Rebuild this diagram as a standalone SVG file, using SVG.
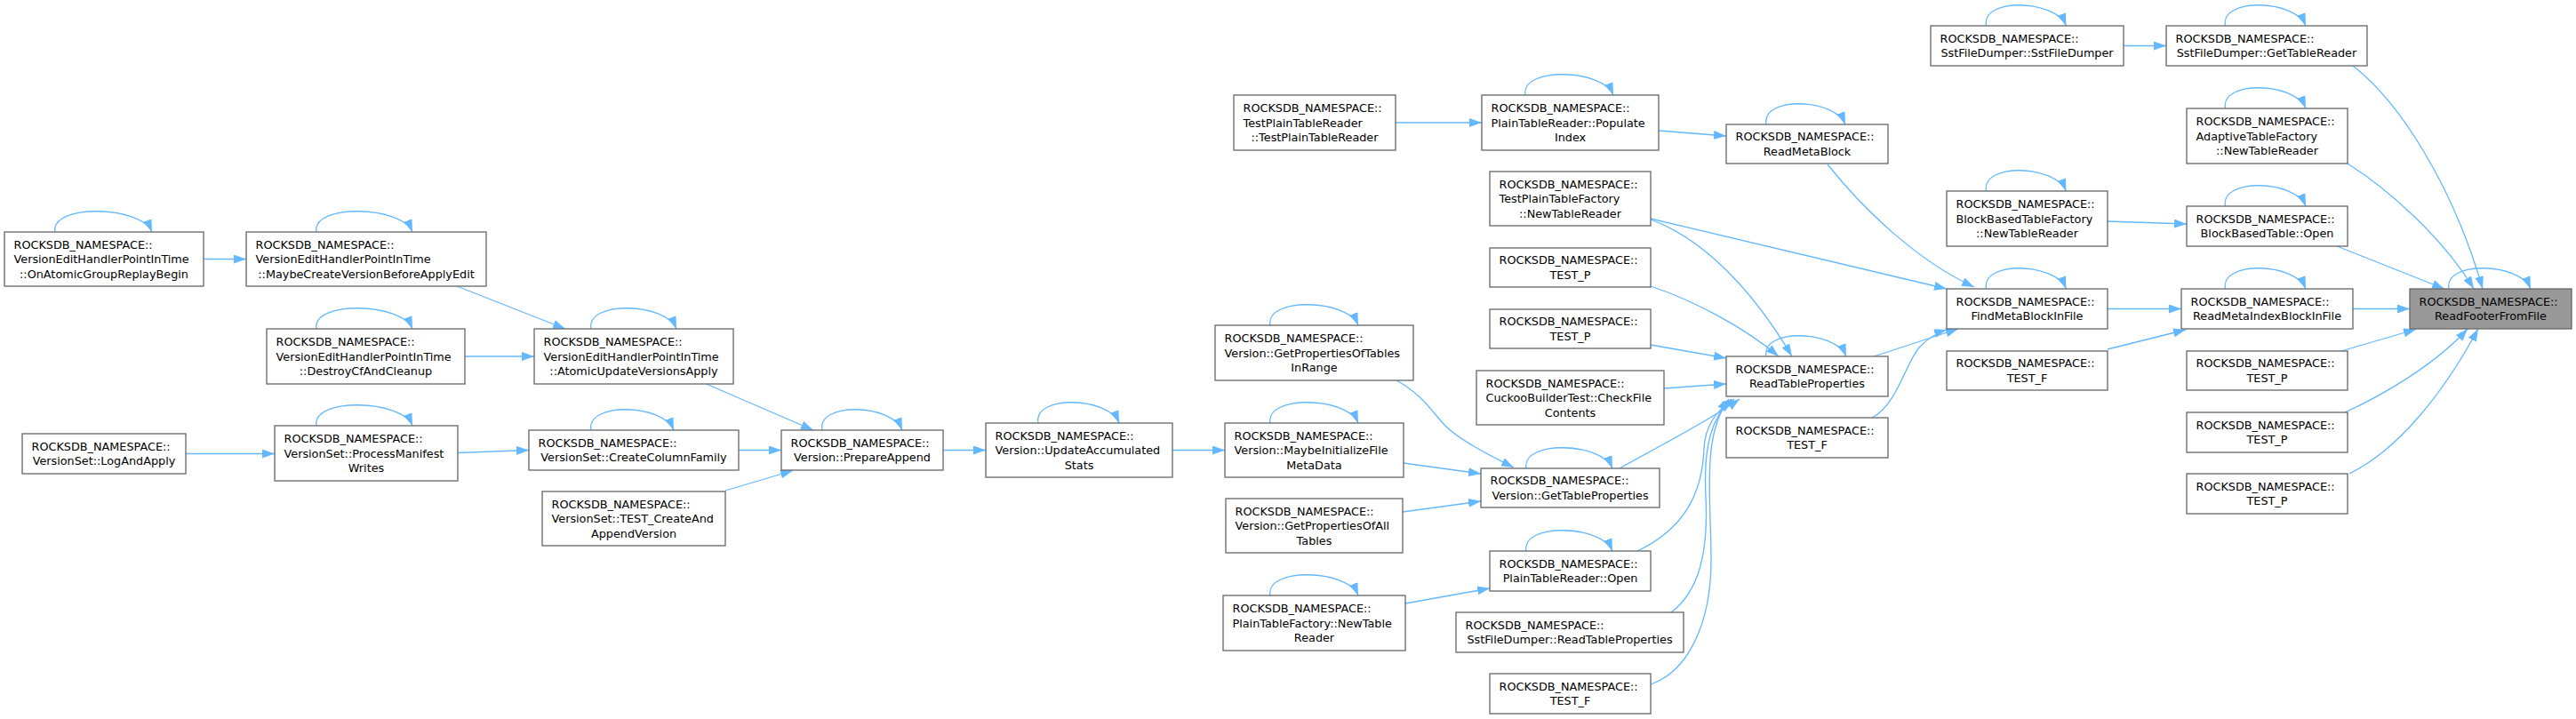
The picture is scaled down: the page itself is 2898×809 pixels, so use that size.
<svg xmlns="http://www.w3.org/2000/svg" width="2898" height="809" viewBox="0 0 2898 809">
<style>
.node rect{fill:#ffffff;stroke:#666666;stroke-width:1.3}
.node.hl rect{fill:#999999}
.node text{font-family:"DejaVu Sans","Liberation Sans",sans-serif;font-size:12.8px;fill:#000000}
.node text.c{text-anchor:middle}
.edge{fill:none;stroke:#63b8ff;stroke-width:1.3}
</style>
<defs>
<marker id="ah" markerUnits="userSpaceOnUse" markerWidth="14" markerHeight="10" refX="14" refY="5" orient="auto">
<path d="M0,0 L14,5 L0,10 Z" fill="#63b8ff"/>
</marker>
</defs>
<rect x="0" y="0" width="2898" height="809" fill="#ffffff"/>
<g id="connectors">
<g class="edge" marker-end="url(#ah)">
<path d="M229,291.5 L277,291.5"/>
<path d="M514,322 L636,370"/>
<path d="M523,401 L601,401"/>
<path d="M794.5,432 L915,484"/>
<path d="M209,510.5 L309,510.5"/>
<path d="M515,509.5 L595,506.5"/>
<path d="M831,506.5 L879,506.5"/>
<path d="M816,552 L892,529.5"/>
<path d="M1061,506.5 L1109,506.5"/>
<path d="M1319,506.5 L1378,506.5"/>
<path d="M1571,428 C1600,444 1610,462 1625,478 S1675,512 1703,526"/>
<path d="M1579,521 L1666,533"/>
<path d="M1578,576 L1666,564"/>
<path d="M1581,679 L1676,662"/>
<path d="M1570,138 L1667,138"/>
<path d="M1866,147 L1942,153"/>
<path d="M1857,246 L2190,325"/>
<path d="M1857,247 C1925,272 1980,340 2016,401"/>
<path d="M1857,322 C1905,338 1962,368 2001,401"/>
<path d="M1857,388 L1942,403"/>
<path d="M1872,437 L1942,432"/>
<path d="M1822,527 C1870,500 1920,475 1957,449"/>
<path d="M1842,620 C1895,595 1915,555 1917,505 C1918,480 1930,462 1951,449"/>
<path d="M1880,689 C1912,665 1922,620 1919,560 C1916,500 1926,470 1948,449"/>
<path d="M1857,770 C1900,755 1925,700 1925,630 C1925,560 1914,490 1945,449"/>
<path d="M2056,185 C2100,240 2160,295 2221,323"/>
<path d="M2108,401 L2203,370"/>
<path d="M2106,470 C2135,455 2145,405 2160,390 C2170,380 2180,374 2190,371"/>
<path d="M2389,51.5 L2437,51.5"/>
<path d="M2371,249 L2460,252"/>
<path d="M2371,347.5 L2454,347.5"/>
<path d="M2371,393 L2459,371"/>
<path d="M2647,74 C2700,115 2760,210 2793,325"/>
<path d="M2641,184 C2690,215 2750,270 2783,325"/>
<path d="M2629,277 L2750,325"/>
<path d="M2647,347.5 L2711,347.5"/>
<path d="M2634,395 L2718,370.5"/>
<path d="M2638,464 C2680,445 2740,410 2776,370"/>
<path d="M2643,533 C2700,505 2750,440 2788,370"/>
<path d="M62,261 C56,229 159,231 171,261"/>
<path d="M356,261 C350,229 452,231 464,261"/>
<path d="M356,370 C350,338 452,340 464,370"/>
<path d="M356,479 C350,447 452,449 464,479"/>
<path d="M665,370 C659,338 749,340 761,370"/>
<path d="M665,484 C659,452 746,454 758,484"/>
<path d="M925,484 C919,452 1003,454 1015,484"/>
<path d="M1168,476 C1162,444 1247,446 1259,476"/>
<path d="M1429,366 C1423,334 1516,336 1528,366"/>
<path d="M1429,476 C1423,444 1516,446 1528,476"/>
<path d="M1429,670 C1423,638 1516,640 1528,670"/>
<path d="M1716,107 C1710,75 1803,77 1815,107"/>
<path d="M1717,527 C1711,495 1802,497 1814,527"/>
<path d="M1717,620 C1711,588 1802,590 1814,620"/>
<path d="M1987,140 C1981,108 2064,110 2076,140"/>
<path d="M1987,401 C1981,369 2065,371 2077,401"/>
<path d="M2234.5,29 C2228.5,-3 2312.5,-1 2324.5,29"/>
<path d="M2234.5,215 C2228.5,183 2312.5,185 2324.5,215"/>
<path d="M2234.5,325 C2228.5,293 2312.5,295 2324.5,325"/>
<path d="M2503.5,29 C2497.5,-3 2582,-1 2594,29"/>
<path d="M2503.5,122 C2497.5,90 2582,92 2594,122"/>
<path d="M2503.5,232 C2497.5,200 2582,202 2594,232"/>
<path d="M2503.5,325 C2497.5,293 2582,295 2594,325"/>
<path d="M2755,325 C2749,293 2835,295 2847,325"/>
</g>
</g>
<g id="n1" class="node"><rect x="5" y="261" width="224" height="61"/><text x="15.5" y="279.7">ROCKSDB_NAMESPACE::</text><text x="15.5" y="296.2">VersionEditHandlerPointInTime</text><text class="c" x="117" y="312.7">::OnAtomicGroupReplayBegin</text></g>
<g id="n2" class="node"><rect x="277" y="261" width="270" height="61"/><text x="287.5" y="279.7">ROCKSDB_NAMESPACE::</text><text x="287.5" y="296.2">VersionEditHandlerPointInTime</text><text class="c" x="412" y="312.7">::MaybeCreateVersionBeforeApplyEdit</text></g>
<g id="n3" class="node"><rect x="300" y="370" width="223" height="62"/><text x="310.5" y="389.2">ROCKSDB_NAMESPACE::</text><text x="310.5" y="405.7">VersionEditHandlerPointInTime</text><text class="c" x="411.5" y="422.2">::DestroyCfAndCleanup</text></g>
<g id="n4" class="node"><rect x="25" y="488" width="184" height="45"/><text x="35.5" y="506.9">ROCKSDB_NAMESPACE::</text><text class="c" x="117" y="523.4">VersionSet::LogAndApply</text></g>
<g id="n5" class="node"><rect x="309" y="479" width="206" height="62"/><text x="319.5" y="498.2">ROCKSDB_NAMESPACE::</text><text x="319.5" y="514.7">VersionSet::ProcessManifest</text><text class="c" x="412" y="531.2">Writes</text></g>
<g id="n6" class="node"><rect x="601" y="370" width="224" height="62"/><text x="611.5" y="389.2">ROCKSDB_NAMESPACE::</text><text x="611.5" y="405.7">VersionEditHandlerPointInTime</text><text class="c" x="713" y="422.2">::AtomicUpdateVersionsApply</text></g>
<g id="n7" class="node"><rect x="595" y="484" width="236" height="45"/><text x="605.5" y="502.9">ROCKSDB_NAMESPACE::</text><text class="c" x="713" y="519.4">VersionSet::CreateColumnFamily</text></g>
<g id="n8" class="node"><rect x="610" y="553" width="206" height="61"/><text x="620.5" y="571.7">ROCKSDB_NAMESPACE::</text><text x="620.5" y="588.2">VersionSet::TEST_CreateAnd</text><text class="c" x="713" y="604.7">AppendVersion</text></g>
<g id="n9" class="node"><rect x="879" y="484" width="182" height="45"/><text x="889.5" y="502.9">ROCKSDB_NAMESPACE::</text><text class="c" x="970" y="519.4">Version::PrepareAppend</text></g>
<g id="n10" class="node"><rect x="1109" y="476" width="210" height="61"/><text x="1119.5" y="494.7">ROCKSDB_NAMESPACE::</text><text x="1119.5" y="511.2">Version::UpdateAccumulated</text><text class="c" x="1214" y="527.7">Stats</text></g>
<g id="n11" class="node"><rect x="1367" y="366" width="223" height="62"/><text x="1377.5" y="385.2">ROCKSDB_NAMESPACE::</text><text x="1377.5" y="401.7">Version::GetPropertiesOfTables</text><text class="c" x="1478.5" y="418.2">InRange</text></g>
<g id="n12" class="node"><rect x="1378" y="476" width="201" height="61"/><text x="1388.5" y="494.7">ROCKSDB_NAMESPACE::</text><text x="1388.5" y="511.2">Version::MaybeInitializeFile</text><text class="c" x="1478.5" y="527.7">MetaData</text></g>
<g id="n13" class="node"><rect x="1379" y="561" width="199" height="61"/><text x="1389.5" y="579.7">ROCKSDB_NAMESPACE::</text><text x="1389.5" y="596.2">Version::GetPropertiesOfAll</text><text class="c" x="1478.5" y="612.7">Tables</text></g>
<g id="n14" class="node"><rect x="1376" y="670" width="205" height="62"/><text x="1386.5" y="689.2">ROCKSDB_NAMESPACE::</text><text x="1386.5" y="705.7">PlainTableFactory::NewTable</text><text class="c" x="1478.5" y="722.2">Reader</text></g>
<g id="n15" class="node"><rect x="1388" y="107" width="182" height="62"/><text x="1398.5" y="126.2">ROCKSDB_NAMESPACE::</text><text x="1398.5" y="142.7">TestPlainTableReader</text><text class="c" x="1479" y="159.2">::TestPlainTableReader</text></g>
<g id="n16" class="node"><rect x="1667" y="107" width="199" height="62"/><text x="1677.5" y="126.2">ROCKSDB_NAMESPACE::</text><text x="1677.5" y="142.7">PlainTableReader::Populate</text><text class="c" x="1766.5" y="159.2">Index</text></g>
<g id="n17" class="node"><rect x="1676" y="193" width="181" height="61"/><text x="1686.5" y="211.7">ROCKSDB_NAMESPACE::</text><text x="1686.5" y="228.2">TestPlainTableFactory</text><text class="c" x="1766.5" y="244.7">::NewTableReader</text></g>
<g id="n18" class="node"><rect x="1676" y="279" width="181" height="44"/><text x="1686.5" y="297.45">ROCKSDB_NAMESPACE::</text><text class="c" x="1766.5" y="313.95">TEST_P</text></g>
<g id="n19" class="node"><rect x="1676" y="348" width="181" height="44"/><text x="1686.5" y="366.45">ROCKSDB_NAMESPACE::</text><text class="c" x="1766.5" y="382.95">TEST_P</text></g>
<g id="n20" class="node"><rect x="1661" y="417" width="211" height="61"/><text x="1671.5" y="435.7">ROCKSDB_NAMESPACE::</text><text x="1671.5" y="452.2">CuckooBuilderTest::CheckFile</text><text class="c" x="1766.5" y="468.7">Contents</text></g>
<g id="n21" class="node"><rect x="1666" y="527" width="201" height="44"/><text x="1676.5" y="545.45">ROCKSDB_NAMESPACE::</text><text class="c" x="1766.5" y="561.95">Version::GetTableProperties</text></g>
<g id="n22" class="node"><rect x="1676" y="620" width="181" height="45"/><text x="1686.5" y="638.95">ROCKSDB_NAMESPACE::</text><text class="c" x="1766.5" y="655.45">PlainTableReader::Open</text></g>
<g id="n23" class="node"><rect x="1638" y="689" width="256" height="45"/><text x="1648.5" y="707.95">ROCKSDB_NAMESPACE::</text><text class="c" x="1766" y="724.45">SstFileDumper::ReadTableProperties</text></g>
<g id="n24" class="node"><rect x="1676" y="758" width="181" height="45"/><text x="1686.5" y="776.95">ROCKSDB_NAMESPACE::</text><text class="c" x="1766.5" y="793.45">TEST_F</text></g>
<g id="n25" class="node"><rect x="1942" y="140" width="182" height="44"/><text x="1952.5" y="158.45">ROCKSDB_NAMESPACE::</text><text class="c" x="2033" y="174.95">ReadMetaBlock</text></g>
<g id="n26" class="node"><rect x="1942" y="401" width="182" height="45"/><text x="1952.5" y="419.95">ROCKSDB_NAMESPACE::</text><text class="c" x="2033" y="436.45">ReadTableProperties</text></g>
<g id="n27" class="node"><rect x="1942" y="470" width="182" height="45"/><text x="1952.5" y="488.95">ROCKSDB_NAMESPACE::</text><text class="c" x="2033" y="505.45">TEST_F</text></g>
<g id="n28" class="node"><rect x="2172" y="29" width="217" height="45"/><text x="2182.5" y="47.95">ROCKSDB_NAMESPACE::</text><text class="c" x="2280.5" y="64.45">SstFileDumper::SstFileDumper</text></g>
<g id="n29" class="node"><rect x="2190" y="215" width="181" height="62"/><text x="2200.5" y="234.2">ROCKSDB_NAMESPACE::</text><text x="2200.5" y="250.7">BlockBasedTableFactory</text><text class="c" x="2280.5" y="267.2">::NewTableReader</text></g>
<g id="n30" class="node"><rect x="2190" y="325" width="181" height="45"/><text x="2200.5" y="343.95">ROCKSDB_NAMESPACE::</text><text class="c" x="2280.5" y="360.45">FindMetaBlockInFile</text></g>
<g id="n31" class="node"><rect x="2190" y="395" width="181" height="44"/><text x="2200.5" y="413.45">ROCKSDB_NAMESPACE::</text><text class="c" x="2280.5" y="429.95">TEST_F</text></g>
<g id="n32" class="node"><rect x="2437" y="29" width="226" height="45"/><text x="2447.5" y="47.95">ROCKSDB_NAMESPACE::</text><text class="c" x="2550" y="64.45">SstFileDumper::GetTableReader</text></g>
<g id="n33" class="node"><rect x="2460" y="122" width="181" height="62"/><text x="2470.5" y="141.2">ROCKSDB_NAMESPACE::</text><text x="2470.5" y="157.7">AdaptiveTableFactory</text><text class="c" x="2550.5" y="174.2">::NewTableReader</text></g>
<g id="n34" class="node"><rect x="2460" y="232" width="181" height="45"/><text x="2470.5" y="250.95">ROCKSDB_NAMESPACE::</text><text class="c" x="2550.5" y="267.45">BlockBasedTable::Open</text></g>
<g id="n35" class="node"><rect x="2454" y="325" width="193" height="45"/><text x="2464.5" y="343.95">ROCKSDB_NAMESPACE::</text><text class="c" x="2550.5" y="360.45">ReadMetaIndexBlockInFile</text></g>
<g id="n36" class="node"><rect x="2460" y="395" width="181" height="44"/><text x="2470.5" y="413.45">ROCKSDB_NAMESPACE::</text><text class="c" x="2550.5" y="429.95">TEST_P</text></g>
<g id="n37" class="node"><rect x="2460" y="464" width="181" height="45"/><text x="2470.5" y="482.95">ROCKSDB_NAMESPACE::</text><text class="c" x="2550.5" y="499.45">TEST_P</text></g>
<g id="n38" class="node"><rect x="2460" y="533" width="181" height="45"/><text x="2470.5" y="551.95">ROCKSDB_NAMESPACE::</text><text class="c" x="2550.5" y="568.45">TEST_P</text></g>
<g id="n39" class="node hl"><rect x="2711" y="325" width="182" height="45"/><text x="2721.5" y="343.95">ROCKSDB_NAMESPACE::</text><text class="c" x="2802" y="360.45">ReadFooterFromFile</text></g>
</svg>
